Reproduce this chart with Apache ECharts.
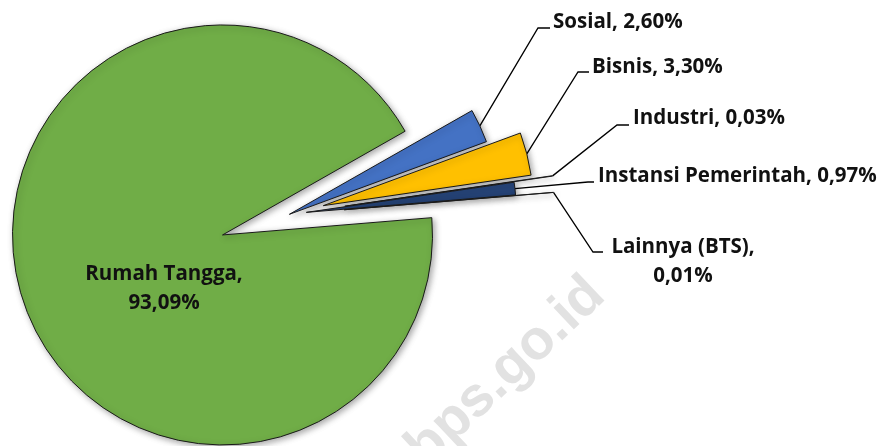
<!DOCTYPE html>
<html><head><meta charset="utf-8">
<script src="https://cdn.jsdelivr.net/npm/echarts@6/dist/echarts.min.js"></script>
<style>html,body{margin:0;padding:0;background:#fff}#c{width:893px;height:446px}</style>
</head><body><div id="c"></div>
<script>
// ---- data ----
const categories = ['Sosial', 'Bisnis', 'Industri', 'Instansi Pemerintah', 'Lainnya (BTS)', 'Rumah Tangga'];
const values = [2.60, 3.30, 0.03, 0.97, 0.01, 93.09];
const labelBreaks = [false, false, false, false, true, true];

// ---- style / layout ----
const colors = ['#4472C4', '#FFC000', '#FFFFFF', '#264478', '#FFFFFF', '#70AD47'];
const explode = [0, 35, 56, 17, 55, 70];
const pivot = [289.4, 214.3];
const R = 210;
const startAngle = 29.6;
const FONT = '"Open Sans"';
const labelCfg = [
  {x: 553, y: 22, align: 'left', line: [[538, 28], [550, 28]]},
  {x: 592, y: 67, align: 'left', line: [[578, 72], [589, 72]]},
  {x: 633, y: 118, align: 'left', line: [[617, 125], [629, 125]]},
  {x: 598, y: 176, align: 'left', line: [[588, 182], [594, 182]]},
  {x: 683, y: 262, align: 'center', line: [[593, 252], [603, 252]]},
  {x: 164, y: 289, align: 'center', line: null}
];

const total = values.reduce((a, b) => a + b, 0);
function fmt(v) { return v.toFixed(2).replace('.', ',') + '%'; }
const labelTexts = categories.map((c, i) => c + ',' + (labelBreaks[i] ? '\n' : ' ') + fmt(values[i]));

let cum = 0;
const series = categories.map((name, i) => {
  const mid = (startAngle - (cum + values[i] / 2) / total * 360) * Math.PI / 180;
  cum += values[i];
  const center = [pivot[0] + explode[i] * Math.cos(mid), pivot[1] - explode[i] * Math.sin(mid)];
  const L = labelCfg[i];
  return {
    type: 'pie',
    silent: true,
    animation: false,
    radius: R,
    center: center,
    startAngle: startAngle,
    clockwise: true,
    avoidLabelOverlap: false,
    z: i === 5 ? 1 : 2,
    data: categories.map((n, j) => ({
      name: n,
      value: values[j],
      itemStyle: j === i ? {
        color: colors[j], borderColor: '#1a1a1a', borderWidth: 1,
        shadowBlur: 6, shadowColor: 'rgba(0,0,0,0.35)', shadowOffsetX: 2, shadowOffsetY: 2
      } : {color: 'rgba(0,0,0,0)', borderWidth: 0},
      label: {show: j === i},
      labelLine: {show: j === i && i !== 5}
    })),
    label: {
      position: i === 5 ? 'inside' : 'outside',
      formatter: () => labelTexts[i],
      fontFamily: FONT, fontWeight: 'bold', fontSize: 20.5, color: '#111',
      lineHeight: 29, align: L.align
    },
    labelLine: {lineStyle: {color: '#000', width: 1.3}},
    labelLayout: function (p) {
      if (p.dataIndex !== i) return {};
      const o = {x: L.x, y: L.y, align: L.align, verticalAlign: 'middle'};
      if (L.line && p.labelLinePoints) {
        o.labelLinePoints = [p.labelLinePoints[0]].concat(L.line);
      }
      return o;
    }
  };
});

const chart = echarts.init(document.getElementById('c'), null, {renderer: 'canvas'});
chart.setOption({
  backgroundColor: '#fff',
  animation: false,
  graphic: [{
    type: 'text', x: 506, y: 372, rotation: Math.PI / 4 - 0.03, z: -10,
    style: {text: 'bps.go.id', font: 'bold 56px "Liberation Sans"', fill: '#e2e2e2', align: 'center', verticalAlign: 'middle'}
  }],
  series: series
});
</script></body></html>
